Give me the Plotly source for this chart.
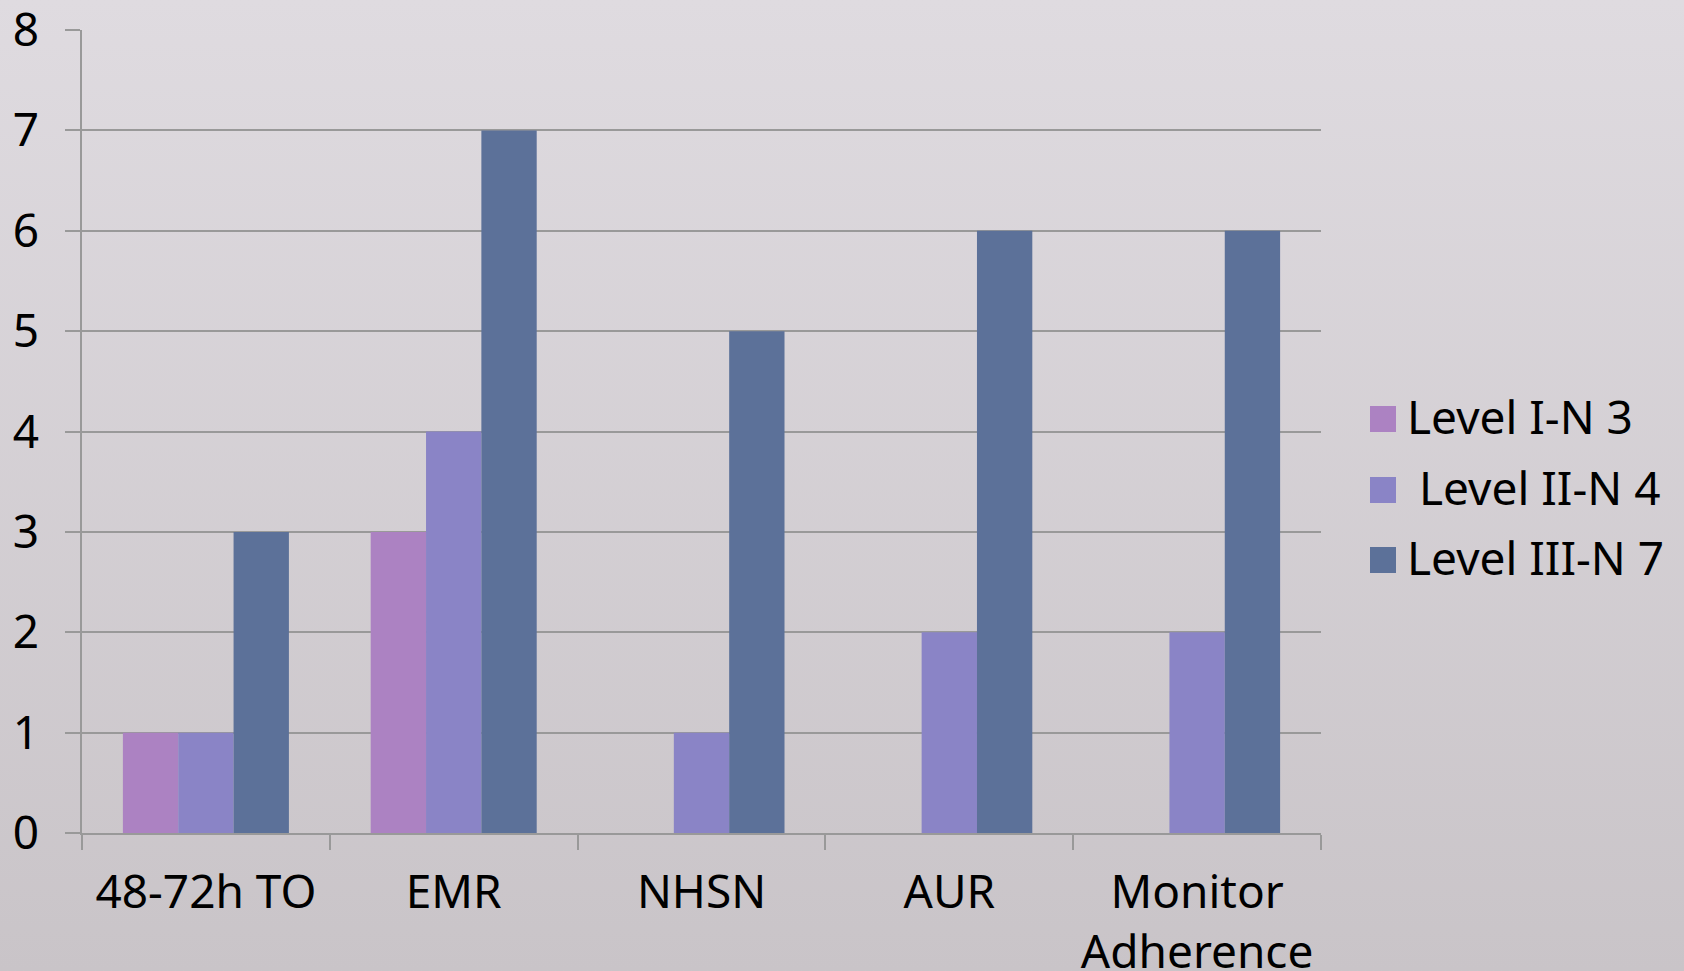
import base64
import plotly.graph_objects as go

categories = ["48-72h TO", "EMR", "NHSN", "AUR", "Monitor<br>Adherence"]
series_names = ["Level I-N 3", " Level II-N 4", "Level III-N 7"]
level1 = [1, 3, 0, 0, 0]
level2 = [1, 4, 1, 2, 2]
level3 = [3, 7, 5, 6, 6]
y_ticks = [0, 1, 2, 3, 4, 5, 6, 7, 8]

colors = ["#ac82c2", "#8a84c6", "#5c7199"]
FONT = "Noto Sans"
W, H = 1684, 971
L, R, T, B = 82, 363, 30, 138
pw, ph = W - L - R, H - T - B

svg = ('<svg xmlns="http://www.w3.org/2000/svg" width="10" height="100" preserveAspectRatio="none">'
       '<defs><linearGradient id="g" x1="0" y1="0" x2="0" y2="1">'
       '<stop offset="0" stop-color="#dfdbe0"/><stop offset="1" stop-color="#c9c4c8"/>'
       '</linearGradient></defs><rect width="10" height="100" fill="url(#g)"/></svg>')
bg_src = "data:image/svg+xml;base64," + base64.b64encode(svg.encode()).decode()

fig = go.Figure()
for i, (name, vals) in enumerate(zip(series_names, [level1, level2, level3])):
    fig.add_trace(go.Bar(x=categories, y=vals, name=name.strip(),
                         marker=dict(color=colors[i], line=dict(width=0)), showlegend=False))

# legend drawn as squares + text (to match large legend keys)
legend_px_y = [419, 490, 560]
shapes = []
annotations = []
for i, name in enumerate(series_names):
    cy = legend_px_y[i]
    shapes.append(dict(type="rect", xref="paper", yref="paper",
                       x0=(1370 - L) / pw, x1=(1396 - L) / pw,
                       y0=(833 - cy - 13) / ph, y1=(833 - cy + 13) / ph,
                       fillcolor=colors[i], line=dict(width=0), layer="above"))
    annotations.append(dict(text=name.replace(" ", "&nbsp;", 1) if name.startswith(" ") else name,
                            xref="paper", yref="paper", x=(1405 - L) / pw, y=(833 - cy + 3) / ph,
                            xanchor="left", yanchor="middle", showarrow=False,
                            font=dict(family=FONT, size=46, color="black")))

fig.update_layout(
    width=W, height=H,
    margin=dict(l=L, r=R, t=T, b=B, autoexpand=False),
    paper_bgcolor="#d5d0d4",
    plot_bgcolor="rgba(0,0,0,0)",
    barmode="group", bargap=0.33, bargroupgap=0,
    showlegend=False,
    font=dict(family=FONT, size=46, color="black"),
    shapes=shapes,
    annotations=annotations,
    images=[dict(source=bg_src, xref="paper", yref="paper", x=-L / pw, y=1 + T / ph,
                 sizex=W / pw, sizey=H / ph, sizing="stretch", layer="below", xanchor="left", yanchor="top")],
    xaxis=dict(showline=True, linecolor="#999999", linewidth=1.5, ticks="outside", ticklen=15,
               tickcolor="#999999", tickwidth=1.5, tickson="boundaries", showgrid=False,
               ticklabelstandoff=18, automargin=False),
    yaxis=dict(range=[0, 8.0001], tickvals=y_ticks, showline=True, linecolor="#999999", linewidth=1.5,
               ticks="outside", ticklen=15, tickcolor="#999999", tickwidth=1.5,
               showgrid=True, gridcolor="#999999", gridwidth=1.5, zeroline=False,
               ticklabelstandoff=17, ticklabeloverflow="allow", automargin=False),
)
fig.write_html("out.html", config={"displayModeBar": False},
               post_script="document.body.style.margin='0';document.body.style.overflow='hidden';")
